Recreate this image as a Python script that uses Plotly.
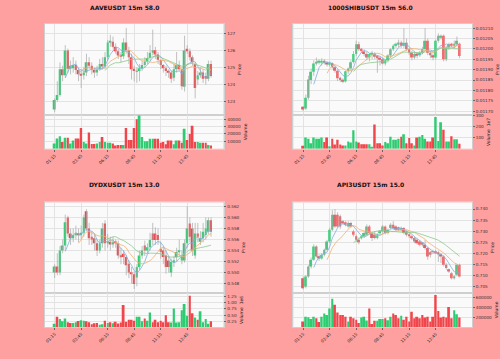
import plotly.graph_objects as go
import pandas as pd

# ---------------- data ----------------
tick_pos = [0, 10, 20, 30, 40, 50]
tick_labels = ["01:15", "03:45", "06:15", "08:45", "11:15", "13:45"]

titles = ["AAVEUSDT 15m 58.0", "1000SHIBUSDT 15m 56.0", "DYDXUSDT 15m 13.0", "API3USDT 15m 15.0"]

aave_open = [122.55,123.1,123.4,124.9,124.55,125.98,124.92,124.95,125.15,124.85, 124.6,124.55,124.7,125.3,125.1,124.85,124.7,124.9,125.2,125.05, 125.6,126.45,126.5,126.2,125.95,125.7,125.65,126.45,126.0,125.6, 124.9,124.8,124.8,124.95,125.15,125.35,125.55,125.85,126.0,125.75, 125.45,125.15,124.95,124.8,124.7,124.4,124.9,125.15,124.9,123.87, 126.05,125.95,125.6,125.2,124.3,124.55,124.7,124.5,124.35,125.2]
aave_close = [123.1,123.4,124.9,124.55,125.98,124.92,125.1,125.15,124.85,124.6, 124.55,124.7,125.3,125.1,124.85,124.7,124.9,125.2,125.05,125.6, 126.45,126.5,126.2,125.95,125.7,125.65,126.45,126.0,125.6,124.9, 124.8,124.78,124.95,125.15,125.35,125.55,125.85,126.0,125.75,125.45, 125.15,124.95,124.8,124.7,124.35,124.9,125.15,124.9,123.9,125.98, 125.95,125.6,125.3,123.8,124.55,124.7,124.35,124.35,125.2,124.5]
aave_high = [123.2,124.2,125.3,125.1,126.3,126.1,125.4,125.6,125.4,125.0, 124.9,125.0,125.8,125.6,125.3,125.0,125.1,125.5,125.6,125.9, 126.6,126.9,126.8,126.4,126.1,125.9,126.7,127.3,126.2,125.8, 125.1,125.0,125.2,125.4,125.6,125.9,126.3,127.2,126.2,125.9, 125.4,125.2,125.1,124.9,124.8,125.2,125.9,125.4,125.0,126.85, 126.3,126.1,125.7,125.3,124.8,125.0,124.9,124.7,125.4,125.4]
aave_low = [122.4,123.0,123.3,124.2,124.4,124.7,124.6,124.7,124.6,124.2, 123.8,124.3,124.5,124.9,124.6,124.4,124.5,124.8,124.9,124.9, 125.4,126.2,126.1,125.8,125.5,125.3,125.5,125.8,125.2,124.3, 124.2,124.1,124.2,124.8,125.0,125.2,125.4,125.7,125.5,125.2, 124.9,124.7,124.5,124.4,124.1,124.2,124.7,124.8,123.7,123.6, 125.8,125.4,125.1,123.2,124.0,124.4,124.1,124.0,124.2,124.4]
aave_vol = [7000,14000,17000,9000,15000,15000,7000,11000,14000,14000, 28000,9000,7000,22000,6500,6500,7000,9000,16000,9000, 8000,8000,7000,4500,5000,5000,5000,28000,12000,12000, 28000,40000,45000,16000,10000,10000,13500,13500,13500,13500, 8000,9000,6000,11000,11000,6000,11000,11000,8000,27000, 12000,20000,31000,9000,9000,8000,8000,8000,5000,4500]

shib_open = [0.011716,0.011712,0.011765,0.011850,0.011890,0.011930,0.011935,0.011935,0.011942,0.011935, 0.011925,0.011932,0.011912,0.011895,0.011858,0.011850,0.011843,0.011892,0.011905,0.011937, 0.011975,0.012023,0.011998,0.011988,0.011975,0.011958,0.011975,0.011978,0.011962,0.011955, 0.011950,0.011930,0.011945,0.011968,0.011998,0.012015,0.012023,0.012031,0.012015,0.012030, 0.011998,0.011982,0.011958,0.011975,0.011970,0.011982,0.012000,0.012039,0.011982,0.011970, 0.011958,0.012039,0.012055,0.012063,0.011950,0.012007,0.012023,0.012015,0.012023,0.012025]
shib_close = [0.011708,0.011765,0.011853,0.011890,0.011930,0.011935,0.011940,0.011942,0.011935,0.011925, 0.011932,0.011912,0.011895,0.011858,0.011850,0.011843,0.011892,0.011905,0.011936,0.011975, 0.012023,0.011998,0.011990,0.011975,0.011958,0.011975,0.011980,0.011962,0.011955,0.011950, 0.011930,0.011945,0.011968,0.011998,0.012015,0.012023,0.012031,0.012015,0.012030,0.011998, 0.011982,0.011958,0.011975,0.011970,0.011982,0.012000,0.012039,0.011982,0.011970,0.011958, 0.012039,0.012063,0.012060,0.011950,0.012007,0.012023,0.012015,0.012023,0.012039,0.011966]
shib_high = [0.011725,0.011780,0.011870,0.011905,0.011945,0.011958,0.011950,0.011955,0.011950,0.011942, 0.011940,0.011935,0.011918,0.011900,0.011866,0.011858,0.011895,0.011910,0.011945,0.011990, 0.012040,0.012035,0.012005,0.011998,0.011985,0.011980,0.011990,0.011985,0.011970,0.011962, 0.011958,0.011950,0.011975,0.012005,0.012022,0.012030,0.012045,0.012040,0.012100,0.012050, 0.012005,0.011990,0.011985,0.011985,0.011990,0.012010,0.012100,0.012050,0.011990,0.011978, 0.012045,0.012075,0.012070,0.012070,0.012015,0.012030,0.012030,0.012040,0.012060,0.012030]
shib_low = [0.011700,0.011705,0.011755,0.011830,0.011870,0.011920,0.011925,0.011920,0.011925,0.011915, 0.011915,0.011905,0.011885,0.011845,0.011840,0.011835,0.011838,0.011880,0.011895,0.011930, 0.011965,0.011990,0.011980,0.011965,0.011945,0.011940,0.011950,0.011950,0.011885,0.011920, 0.011925,0.011920,0.011935,0.011960,0.011990,0.012005,0.012010,0.012005,0.012005,0.011990, 0.011970,0.011945,0.011950,0.011955,0.011962,0.011975,0.011990,0.011970,0.011955,0.011945, 0.011950,0.012030,0.012045,0.011940,0.011940,0.011995,0.012008,0.012005,0.012015,0.011955]
shib_vol = [28,100,90,50,100,90,90,100,60,100, 22,90,38,80,38,30,30,65,55,165, 65,55,40,40,40,40,18,215,50,50, 30,60,50,108,80,80,90,108,130,50, 95,50,30,100,108,122,90,65,65,100, 282,70,235,170,65,65,112,85,85,45]

dydx_open = [0.5500,0.5511,0.5500,0.5540,0.5549,0.5600,0.5571,0.5562,0.5568,0.5571, 0.5568,0.5572,0.5611,0.5580,0.5565,0.5562,0.5553,0.5540,0.5553,0.5589, 0.5553,0.5556,0.5551,0.5555,0.5553,0.5531,0.5534,0.5528,0.5516,0.5500, 0.5497,0.5491,0.5510,0.5531,0.5549,0.5540,0.5546,0.5571,0.5571,0.5568, 0.5543,0.5540,0.5531,0.5522,0.5500,0.5519,0.5528,0.5537,0.5522,0.5522, 0.5553,0.5589,0.5580,0.5531,0.5571,0.5556,0.5562,0.5568,0.5574,0.5595]
dydx_close = [0.5511,0.5500,0.5540,0.5549,0.5591,0.5571,0.5562,0.5568,0.5571,0.5568, 0.5572,0.5600,0.5580,0.5562,0.5560,0.5553,0.5540,0.5553,0.5580,0.5553, 0.5556,0.5551,0.5555,0.5553,0.5531,0.5528,0.5528,0.5513,0.5500,0.5497, 0.5479,0.5510,0.5531,0.5540,0.5540,0.5546,0.5559,0.5559,0.5559,0.5559, 0.5537,0.5528,0.5510,0.5510,0.5519,0.5522,0.5537,0.5540,0.5530,0.5553, 0.5580,0.5565,0.5540,0.5571,0.5565,0.5562,0.5574,0.5580,0.5595,0.5574]
dydx_high = [0.5515,0.5535,0.5548,0.5560,0.5605,0.5603,0.5580,0.5580,0.5585,0.5580, 0.5585,0.5605,0.5615,0.5590,0.5575,0.5570,0.5560,0.5560,0.5590,0.5595, 0.5570,0.5565,0.5565,0.5560,0.5558,0.5545,0.5540,0.5532,0.5522,0.5510, 0.5502,0.5515,0.5540,0.5548,0.5558,0.5553,0.5572,0.5590,0.5582,0.5580, 0.5556,0.5548,0.5540,0.5530,0.5525,0.5530,0.5545,0.5560,0.5540,0.5560, 0.5620,0.5600,0.5590,0.5590,0.5590,0.5575,0.5590,0.5600,0.5600,0.5600]
dydx_low = [0.5490,0.5495,0.5495,0.5535,0.5540,0.5565,0.5550,0.5555,0.5560,0.5555, 0.5560,0.5565,0.5575,0.5550,0.5550,0.5540,0.5530,0.5535,0.5545,0.5540, 0.5545,0.5540,0.5545,0.5545,0.5525,0.5515,0.5515,0.5495,0.5490,0.5480, 0.5470,0.5475,0.5505,0.5525,0.5530,0.5535,0.5540,0.5550,0.5550,0.5550, 0.5525,0.5515,0.5498,0.5500,0.5492,0.5510,0.5520,0.5528,0.5515,0.5518, 0.5545,0.5555,0.5530,0.5525,0.5555,0.5550,0.5555,0.5560,0.5570,0.5565]
dydx_vol = [0.14,0.43,0.34,0.25,0.36,0.21,0.17,0.17,0.21,0.26, 0.29,0.27,0.25,0.21,0.12,0.16,0.17,0.10,0.12,0.27, 0.17,0.21,0.16,0.23,0.15,0.19,0.91,0.23,0.31,0.31, 0.27,0.43,0.43,0.25,0.36,0.27,0.60,0.21,0.31,0.21, 0.27,0.21,0.49,0.21,0.19,0.77,0.19,0.21,0.70,0.95, 0.47,1.29,0.57,0.40,0.31,0.66,0.21,0.34,0.14,0.25]

api3_open = [0.7086,0.7049,0.7094,0.7139,0.7170,0.7230,0.7185,0.7176,0.7192,0.7215, 0.7253,0.7306,0.7374,0.7374,0.7367,0.7344,0.7336,0.7321,0.7336,0.7298, 0.7276,0.7261,0.7268,0.7276,0.7283,0.7321,0.7291,0.7283,0.7268,0.7291, 0.7298,0.7321,0.7291,0.7314,0.7329,0.7321,0.7314,0.7306,0.7314,0.7298, 0.7283,0.7276,0.7268,0.7261,0.7253,0.7245,0.7238,0.7223,0.7200,0.7208, 0.7208,0.7200,0.7192,0.7185,0.7147,0.7124,0.7109,0.7086,0.7102,0.7147]
api3_close = [0.7041,0.7094,0.7139,0.7170,0.7230,0.7185,0.7176,0.7192,0.7215,0.7253, 0.7306,0.7374,0.7321,0.7321,0.7321,0.7336,0.7329,0.7336,0.7321,0.7283, 0.7261,0.7249,0.7276,0.7291,0.7321,0.7291,0.7268,0.7268,0.7283,0.7298, 0.7321,0.7291,0.7306,0.7329,0.7314,0.7306,0.7306,0.7314,0.7291,0.7283, 0.7276,0.7268,0.7253,0.7245,0.7238,0.7238,0.7223,0.7185,0.7192,0.7204, 0.7200,0.7195,0.7185,0.7147,0.7132,0.7117,0.7086,0.7094,0.7147,0.7094]
api3_high = [0.7094,0.7100,0.7145,0.7180,0.7240,0.7235,0.7195,0.7200,0.7220,0.7260, 0.7315,0.7395,0.7400,0.7385,0.7375,0.7350,0.7345,0.7345,0.7342,0.7305, 0.7285,0.7270,0.7282,0.7298,0.7330,0.7328,0.7298,0.7300,0.7290,0.7305, 0.7328,0.7325,0.7312,0.7336,0.7345,0.7326,0.7320,0.7320,0.7318,0.7303, 0.7290,0.7282,0.7275,0.7265,0.7258,0.7250,0.7260,0.7228,0.7210,0.7215, 0.7215,0.7212,0.7200,0.7190,0.7155,0.7130,0.7115,0.7100,0.7150,0.7152]
api3_low = [0.7035,0.7040,0.7088,0.7130,0.7165,0.7180,0.7165,0.7170,0.7185,0.7210, 0.7245,0.7300,0.7315,0.7315,0.7310,0.7328,0.7322,0.7315,0.7315,0.7275, 0.7250,0.7240,0.7262,0.7270,0.7280,0.7285,0.7255,0.7262,0.7262,0.7285, 0.7292,0.7285,0.7285,0.7308,0.7305,0.7300,0.7300,0.7300,0.7285,0.7275, 0.7268,0.7260,0.7245,0.7238,0.7230,0.7230,0.7215,0.7170,0.7180,0.7195, 0.7195,0.7160,0.7155,0.7140,0.7125,0.7110,0.7080,0.7080,0.7095,0.7090]
api3_vol = [118000,216000,203000,170000,216000,184000,105000,216000,282000,249000, 380000,577000,459000,302000,249000,249000,216000,118000,216000,184000, 151000,85000,197000,216000,138000,380000,66000,131000,131000,170000, 170000,184000,144000,216000,282000,249000,184000,236000,151000,216000, 118000,315000,184000,216000,184000,249000,197000,216000,118000,216000, 656000,328000,197000,216000,197000,413000,184000,348000,262000,197000]

mav_windows = [5, 10, 20]

# ---------------- style / layout ----------------
UP = "#2ecc71"
DOWN = "#f0464b"
WICK = "#a8a8a8"
MAV_COLORS = ["#7fb0dc", "#f4b070", "#8cc98c"]
BG = "#ffa0a0"
GRID = "#e3e3e3"

W, H = 500, 359
def fx(px):
    return px / W
def fy(py):
    return 1 - py / H

panels = [
    dict(title=titles[0], o=aave_open, h=aave_high, l=aave_low, c=aave_close, v=aave_vol,
         x0=45, x1=225, py0=21, py1=113, vy1=147, ty=5, tx=125,
         prange=[122.23, 127.54], pticks=[123, 124, 125, 126, 127], pfmt="d",
         vrange=[0, 45500], vticks=[10000, 20000, 30000, 40000], vfmt="d", vtitle="Volume"),
    dict(title=titles[1], o=shib_open, h=shib_high, l=shib_low, c=shib_close, v=shib_vol,
         x0=295, x1=475, py0=21, py1=113, vy1=147, ty=5, tx=373,
         prange=[0.011681, 0.012121], pticks=[0.0117 + 0.00005 * k for k in range(9)], pfmt=".5f",
         vrange=[0, 300], vticks=[100, 200, 300], vfmt="d", vtitle="Volume  1e7"),
    dict(title=titles[2], o=dydx_open, h=dydx_high, l=dydx_low, c=dydx_close, v=dydx_vol,
         x0=45, x1=225, py0=201, py1=292, vy1=327, ty=183, tx=125,
         prange=[0.54636, 0.56274], pticks=[0.548 + 0.002 * k for k in range(8)], pfmt=".3f",
         vrange=[0, 1.42], vticks=[0.25, 0.5, 0.75, 1.0, 1.25], vfmt=".2f", vtitle="Volume  1e6"),
    dict(title=titles[3], o=api3_open, h=api3_high, l=api3_low, c=api3_close, v=api3_vol,
         x0=295, x1=475, py0=201, py1=292, vy1=327, ty=183, tx=373,
         prange=[0.7021, 0.74303], pticks=[0.705 + 0.005 * k for k in range(8)], pfmt=".3f",
         vrange=[0, 705000], vticks=[200000, 400000, 600000], vfmt="d", vtitle="Volume"),
]

fig = go.Figure()
layout = dict(
    width=W, height=H, margin=dict(l=0, r=0, t=0, b=0),
    paper_bgcolor=BG, plot_bgcolor="#fafafa", showlegend=False,
    font=dict(family="DejaVu Sans", size=5, color="#222"),
    bargap=0.3,
)
annotations = []
TICKFONT = dict(family="DejaVu Sans", size=4.2, color="#333")

for p, P in enumerate(panels):
    xa_p, xa_v = 2 * p + 1, 2 * p + 2
    n = len(P["c"])
    idx = list(range(n))
    up = [P["c"][i] >= P["o"][i] for i in idx]
    cols = [UP if u else DOWN for u in up]

    # wicks
    wx, wy = [], []
    for i in idx:
        wx += [i, i, None]
        wy += [P["l"][i], P["h"][i], None]
    fig.add_trace(go.Scatter(x=wx, y=wy, mode="lines", line=dict(color=WICK, width=0.7),
                             xaxis=f"x{xa_p}", yaxis=f"y{xa_p}", hoverinfo="skip"))
    # bodies
    body = [P["c"][i] - P["o"][i] for i in idx]
    fig.add_trace(go.Bar(x=idx, y=body, base=P["o"], marker=dict(color=cols, line=dict(width=0)),
                         width=0.72, xaxis=f"x{xa_p}", yaxis=f"y{xa_p}"))
    # moving averages
    cs = pd.Series(P["c"])
    for w, mc in zip(mav_windows, MAV_COLORS):
        ma = cs.rolling(w).mean()
        fig.add_trace(go.Scatter(x=idx, y=ma, mode="lines", line=dict(color=mc, width=0.8),
                                 xaxis=f"x{xa_p}", yaxis=f"y{xa_p}", hoverinfo="skip"))
    # volume
    fig.add_trace(go.Bar(x=idx, y=P["v"], marker=dict(color=cols, line=dict(width=0)),
                         width=0.72, xaxis=f"x{xa_v}", yaxis=f"y{xa_v}"))

    xdom = [fx(P["x0"]), fx(P["x1"])]
    common_x = dict(domain=xdom, range=[-3.75, 63.75], tickmode="array", tickvals=tick_pos,
                    showgrid=True, gridcolor=GRID, gridwidth=0.6, zeroline=False,
                    showline=True, linecolor="#cfcfcf", linewidth=0.6, mirror=True)
    layout[f"xaxis{xa_p}"] = dict(common_x, anchor=f"y{xa_p}", showticklabels=False, ticks="")
    layout[f"xaxis{xa_v}"] = dict(common_x, anchor=f"y{xa_v}", ticktext=tick_labels,
                                  tickangle=-45, tickfont=TICKFONT, ticks="outside",
                                  ticklen=2, tickwidth=0.5, tickcolor="#666")
    common_y = dict(side="right", showgrid=True, gridcolor=GRID, gridwidth=0.6, zeroline=False,
                    showline=True, linecolor="#cfcfcf", linewidth=0.6, mirror=True,
                    ticks="outside", ticklen=2, tickwidth=0.5, tickcolor="#666",
                    tickfont=TICKFONT, tickmode="array")
    layout[f"yaxis{xa_p}"] = dict(common_y, anchor=f"x{xa_p}",
                                  domain=[fy(P["py1"]), fy(P["py0"])],
                                  range=P["prange"], tickvals=P["pticks"], tickformat=P["pfmt"],
                                  title=dict(text="Price", font=dict(size=4.5), standoff=3))
    layout[f"yaxis{xa_v}"] = dict(common_y, anchor=f"x{xa_v}",
                                  domain=[fy(P["vy1"]), fy(P["py1"])],
                                  range=P["vrange"], tickvals=P["vticks"], tickformat=P["vfmt"],
                                  title=dict(text=P["vtitle"], font=dict(size=4.5), standoff=3))
    annotations.append(dict(text=f"<b>{P['title']}</b>", x=fx(P["tx"]), y=fy(P["ty"]),
                            xref="paper", yref="paper", xanchor="center", yanchor="middle",
                            showarrow=False, font=dict(size=6, color="#111", family="DejaVu Sans")))

layout["annotations"] = annotations
fig.update_layout(**layout)
fig.write_html("out.html")
